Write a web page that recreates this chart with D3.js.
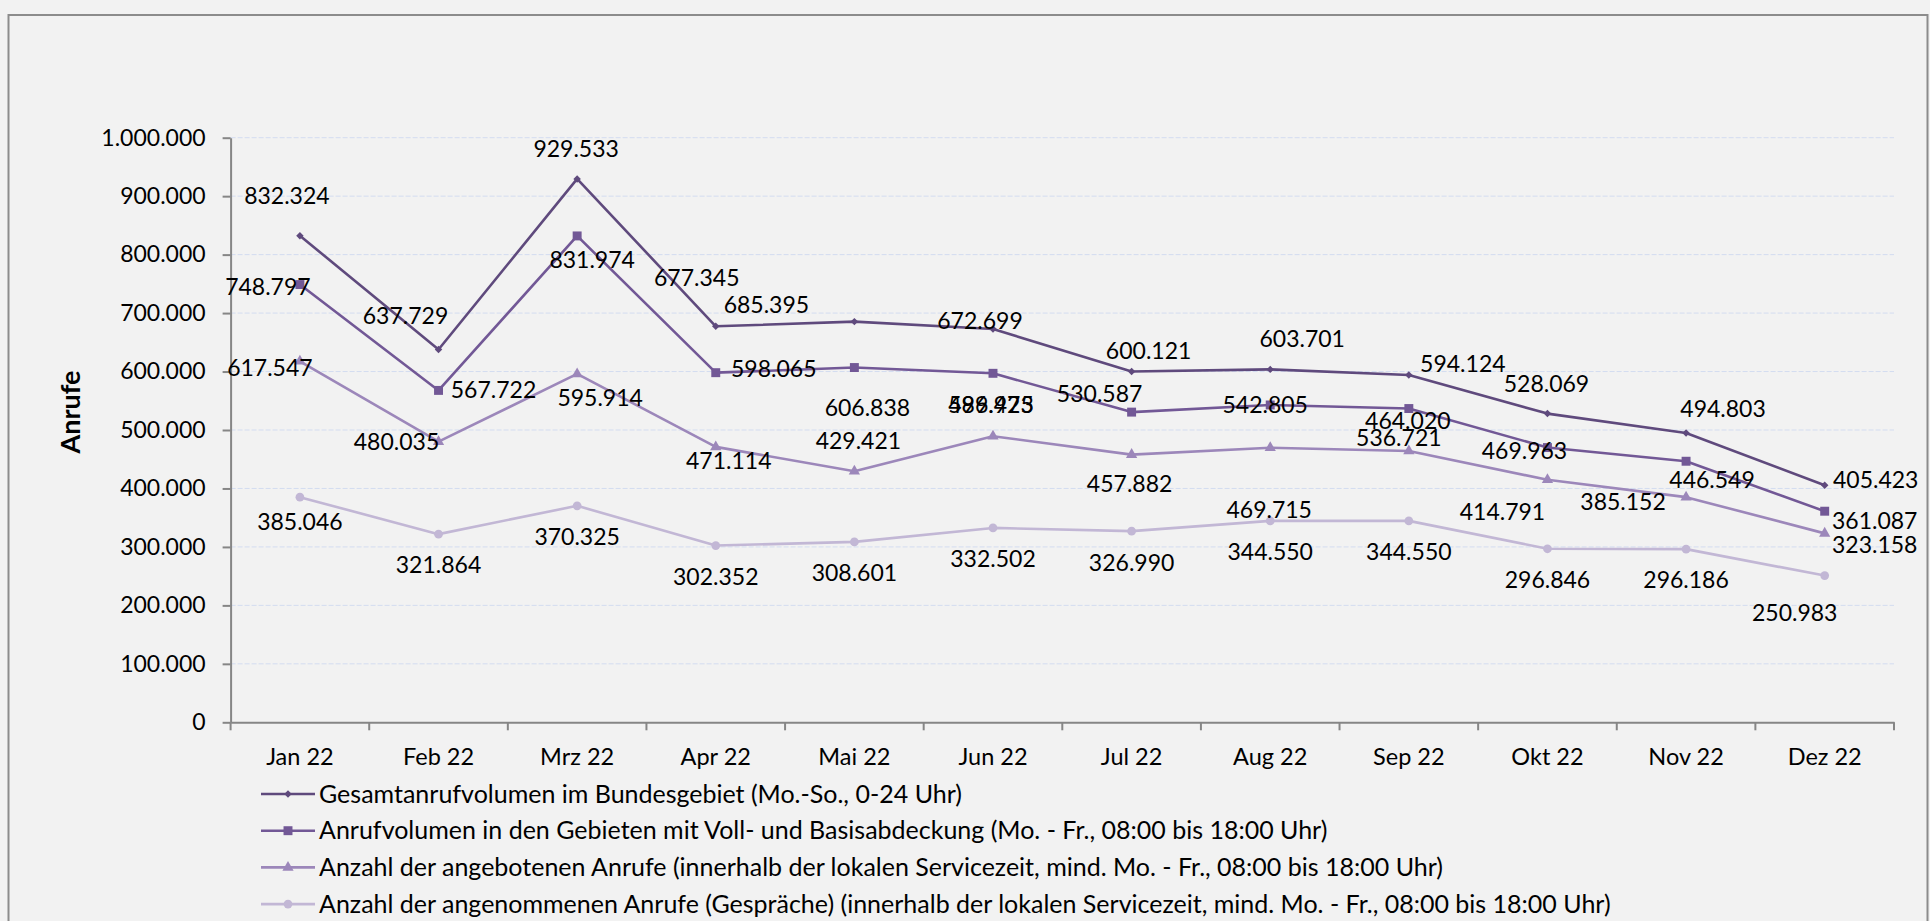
<!DOCTYPE html>
<html>
<head>
<meta charset="utf-8">
<script src="https://cdn.jsdelivr.net/npm/d3@7"></script>
<style>
  html, body { margin: 0; padding: 0; background: #f2f2f2; }
  svg { display: block; font-family: Lato, "Open Sans", sans-serif; }
</style>
</head>
<body>
<div id="chart"></div>
<script>
// Daten (Anrufe pro Monat 2022)
const months = ['Jan 22', 'Feb 22', 'Mrz 22', 'Apr 22', 'Mai 22', 'Jun 22',
                'Jul 22', 'Aug 22', 'Sep 22', 'Okt 22', 'Nov 22', 'Dez 22'];

const gesamt     = [832324, 637729, 929533, 677345, 685395, 672699, 600121, 603701, 594124, 528069, 494803, 405423];
const abdeckung  = [748797, 567722, 831974, 598065, 606838, 596975, 530587, 542805, 536721, 469963, 446549, 361087];
const angeboten  = [617547, 480035, 595914, 471114, 429421, 489423, 457882, 469715, 464020, 414791, 385152, 323158];
const angenommen = [385046, 321864, 370325, 302352, 308601, 332502, 326990, 344550, 344550, 296846, 296186, 250983];

const yTicks = [0, 100000, 200000, 300000, 400000, 500000, 600000, 700000, 800000, 900000, 1000000];

const seriesNames = [
    'Gesamtanrufvolumen im Bundesgebiet (Mo.-So., 0-24 Uhr)',
    'Anrufvolumen in den Gebieten mit Voll- und Basisabdeckung (Mo. - Fr., 08:00 bis 18:00 Uhr)',
    'Anzahl der angebotenen Anrufe (innerhalb der lokalen Servicezeit, mind. Mo. - Fr., 08:00 bis 18:00 Uhr)',
    'Anzahl der angenommenen Anrufe (Gespräche) (innerhalb der lokalen Servicezeit, mind. Mo. - Fr., 08:00 bis 18:00 Uhr)'
];

// Verschiebung der Datenbeschriftungen relativ zum Punkt (px), wie im Original manuell verschoben
const labelShift1 = [[-13,-40],[-33,-34],[-1,-30],[-19,-48],[-88,-17],[-13,-8],[17,-21],[32,-30],[54,-11],[-1,-30],[37,-24],[51,-5]];
const labelShift2 = [[-32,2],[55,0],[15,24],[58,-4],[13,40],[-2,32],[-32,-18],[-5,0],[-10,29],[-23,3],[26,19],[50,10]];
const labelShift3 = [[-30,7],[-42,0],[23,24],[13,14],[4,-30],[-2,-31],[-2,29],[-1,62],[-1,-30],[-45,32],[-63,5],[50,12]];
const labelShift4 = [[0,25],[0,31],[0,31],[0,31],[0,31],[0,31],[0,32],[0,31],[0,31],[0,31],[0,31],[-30,37]];

const W = 1930, H = 921;
const margin = { top: 137.7, right: 36, bottom: 198.7, left: 230.6 };

const de = d3.formatLocale({ decimal: ',', thousands: '.', grouping: [3], currency: ['', ' €'] });
const fmt = de.format(',d');

const colors = ['#5f4a7d', '#725896', '#9c87ba', '#c2b7d5'];
const symbols = [
    d3.symbol(d3.symbolSquare, 28),
    d3.symbol(d3.symbolSquare, 80),
    d3.symbol(d3.symbolTriangle, 55),
    d3.symbol(d3.symbolCircle, 60)
];
const symbolRotate = [45, 0, 0, 0];

const series = [gesamt, abdeckung, angeboten, angenommen].map((values, i) => ({
    name: seriesNames[i],
    color: colors[i],
    symbol: symbols[i],
    rotate: symbolRotate[i],
    shift: [labelShift1, labelShift2, labelShift3, labelShift4][i],
    points: values.map((v, j) => ({ month: months[j], value: v }))
}));

const svg = d3.select('#chart').append('svg')
    .attr('width', W)
    .attr('height', H)
    .attr('viewBox', `0 0 ${W} ${H}`);

// Rahmen
svg.append('rect')
    .attr('x', 8.5).attr('y', 15)
    .attr('width', 1919).attr('height', 940)
    .attr('fill', '#f2f2f2')
    .attr('stroke', '#8c8c8c')
    .attr('stroke-width', 2);

const x = d3.scaleBand()
    .domain(months)
    .range([margin.left, W - margin.right])
    .padding(0);

const y = d3.scaleLinear()
    .domain([0, 1000000])
    .range([H - margin.bottom, margin.top]);

// Gitternetz
svg.append('g')
    .selectAll('line')
    .data(yTicks.filter(d => d > 0))
    .join('line')
    .attr('x1', margin.left)
    .attr('x2', W - margin.right)
    .attr('y1', d => y(d))
    .attr('y2', d => y(d))
    .attr('stroke', '#d3dcf0')
    .attr('stroke-width', 1)
    .attr('stroke-dasharray', '5,2');

// Y-Achse
const yAxis = svg.append('g')
    .attr('transform', `translate(${margin.left},0)`)
    .call(d3.axisLeft(y).tickValues(yTicks).tickFormat(fmt).tickSize(8).tickSizeOuter(0).tickPadding(17));
yAxis.select('.domain').attr('stroke', '#868686').attr('stroke-width', 2);
yAxis.selectAll('.tick line').attr('stroke', '#868686').attr('stroke-width', 2);
yAxis.selectAll('.tick text')
    .attr('font-size', 23)
    .attr('font-family', 'Lato, sans-serif')
    .attr('fill', '#000');

// X-Achse
const xAxis = svg.append('g')
    .attr('transform', `translate(0,${y(0)})`)
    .call(d3.axisBottom(x).tickSize(0).tickPadding(26));
xAxis.select('.domain').attr('stroke', '#868686').attr('stroke-width', 2);
xAxis.selectAll('.tick text')
    .attr('font-size', 23.5)
    .attr('font-family', 'Lato, sans-serif')
    .attr('fill', '#000');

// Teilstriche zwischen den Kategorien
xAxis.append('g')
    .selectAll('line')
    .data(d3.range(months.length + 1))
    .join('line')
    .attr('x1', i => x.range()[0] + i * x.step())
    .attr('x2', i => x.range()[0] + i * x.step())
    .attr('y1', 0)
    .attr('y2', 8)
    .attr('stroke', '#868686')
    .attr('stroke-width', 2);

// Achsentitel
svg.append('text')
    .attr('transform', `translate(80,412) rotate(-90)`)
    .attr('text-anchor', 'middle')
    .attr('font-size', 27)
    .attr('font-weight', 'bold')
    .attr('fill', '#000')
    .text('Anrufe');

const cx = d => x(d.month) + x.bandwidth() / 2;

const line = d3.line()
    .x(cx)
    .y(d => y(d.value));

// Linien + Marker
const gSeries = svg.append('g')
    .selectAll('g')
    .data(series)
    .join('g');

gSeries.append('path')
    .attr('d', s => line(s.points))
    .attr('fill', 'none')
    .attr('stroke', s => s.color)
    .attr('stroke-width', 2.6)
    .attr('stroke-linejoin', 'round');

gSeries.each(function (s) {
    d3.select(this).selectAll('path.marker')
        .data(s.points)
        .join('path')
        .attr('class', 'marker')
        .attr('d', s.symbol)
        .attr('transform', d => `translate(${cx(d)},${y(d.value)}) rotate(${s.rotate})`)
        .attr('fill', s.color);
});

// Datenbeschriftungen
const gLabels = svg.append('g');
series.forEach(s => {
    gLabels.append('g')
        .selectAll('text')
        .data(s.points)
        .join('text')
        .attr('x', (d, i) => cx(d) + s.shift[i][0])
        .attr('y', (d, i) => y(d.value) + s.shift[i][1])
        .attr('dy', '0.35em')
        .attr('text-anchor', 'middle')
        .attr('font-size', 23)
        .attr('fill', '#000')
        .text(d => fmt(d.value));
});

// Legende
const legend = svg.append('g')
    .selectAll('g')
    .data(series)
    .join('g')
    .attr('transform', (s, i) => `translate(261,${794 + i * 36.7})`);

legend.append('line')
    .attr('x1', 0).attr('x2', 54)
    .attr('stroke', s => s.color)
    .attr('stroke-width', 2.6);

legend.append('path')
    .attr('d', s => s.symbol())
    .attr('transform', s => `translate(27,0) rotate(${s.rotate})`)
    .attr('fill', s => s.color);

legend.append('text')
    .attr('x', 58)
    .attr('dy', '0.35em')
    .attr('font-size', 25)
    .attr('fill', '#000')
    .text(s => s.name);
</script>
</body>
</html>
